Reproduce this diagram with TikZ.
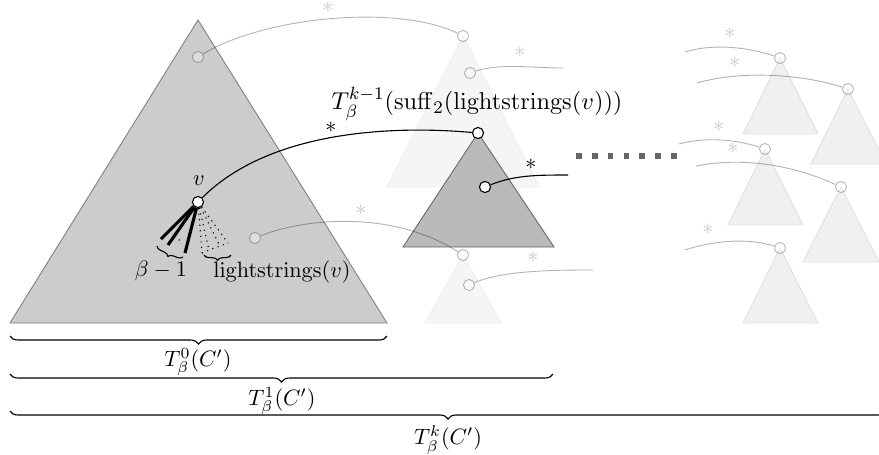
\documentclass[tikz,border=0pt]{standalone}
\usetikzlibrary{decorations.pathreplacing}
\begin{document}
\begin{tikzpicture}[x=0.45pt,y=-0.45pt,
 bigtri/.style={fill=black!20,draw=black!50,line width=0.4pt},
 midtri/.style={fill=black!27,draw=black!60,line width=0.4pt},
 fadetri/.style={fill=black!4,draw=black!7,line width=0.4pt},
 righttri/.style={fill=black!6,draw=black!12,line width=0.4pt},
 dotnode/.style={circle,draw=black,fill=white,inner sep=0pt,minimum size=5pt,line width=0.5pt},
 fdot/.style={circle,draw=black,draw opacity=0.28,fill=white,fill opacity=0.35,inner sep=0pt,minimum size=5pt,line width=0.4pt},
 link/.style={black,line width=0.5pt},
 flink/.style={black,opacity=0.3,line width=0.4pt},
 starlbl/.style={inner sep=0pt},
 fstar/.style={inner sep=0pt,text=black!22},
 sqnode/.style={fill=black!60,inner sep=0pt,minimum size=2.5pt},
 bracestyle/.style={decorate,decoration={brace,mirror,amplitude=3.6pt},line width=0.5pt},
 sbrace/.style={decorate,decoration={brace,mirror,amplitude=2.4pt},line width=0.5pt}]
\useasboundingbox (0,0) rectangle (879,454);
\clip (0,0) rectangle (879,454);

% faded trees
\draw[fadetri] (463,36) -- (387,187) -- (539,187) -- cycle;
\draw[fadetri] (463,255) -- (425,323) -- (501,323) -- cycle;
\draw[righttri] (780,58) -- (743,134) -- (818,134) -- cycle;
\draw[righttri] (848,89) -- (811,164) -- (886,164) -- cycle;
\draw[righttri] (765,149) -- (728,225) -- (803,225) -- cycle;
\draw[righttri] (841,187) -- (803,262) -- (879,262) -- cycle;
\draw[righttri] (780,248) -- (743,323) -- (818,323) -- cycle;

% big triangle and middle tree
\draw[bigtri] (198,20) -- (10,323) -- (387,323) -- cycle;
\draw[midtri] (478,133) -- (403,247) -- (554,247) -- cycle;

% faded nodes
\node[fdot] (t0) at (198,57) {};
\node[fdot] (t1) at (255,238) {};
\node[fdot] (ra) at (463,36) {};
\node[fdot] (rai) at (470,73) {};
\node[fdot] (rb) at (463,255) {};
\node[fdot] (rbi) at (469,285) {};
\node[fdot] (rc) at (780,58) {};
\node[fdot] (rd) at (848,89) {};
\node[fdot] (re) at (765,149) {};
\node[fdot] (rf) at (841,187) {};
\node[fdot] (rg) at (780,248) {};
\coordinate (ea) at (563,68);
\coordinate (eb) at (593,270);
\coordinate (ec) at (685,52);
\coordinate (ed) at (697,83);
\coordinate (ee) at (679,144);
\coordinate (ef) at (696,166);
\coordinate (eg) at (685,250);

\draw[flink] (t0) .. controls +(70,-42) and +(-62,-31) .. (ra);
\draw[flink] (t1) .. controls +(50,-20) and +(-70,-45) .. (rb);
\draw[flink] (rai) .. controls +(30,-10) and +(-30,0) .. (ea);
\draw[flink] (rbi) .. controls +(35,-15) and +(-35,0) .. (eb);
\draw[flink] (ec) .. controls +(25,-8) and +(-35,-12) .. (rc);
\draw[flink] (ed) .. controls +(40,-12) and +(-50,-16) .. (rd);
\draw[flink] (ee) .. controls +(25,-7) and +(-30,-10) .. (re);
\draw[flink] (ef) .. controls +(40,-8) and +(-55,-25) .. (rf);
\draw[flink] (eg) .. controls +(30,-10) and +(-30,-10) .. (rg);

\node[fstar] (s1) at (328,7) {$*$};
\node[fstar] (s2) at (520,52) {$*$};
\node[fstar] (s3) at (361,210) {$*$};
\node[fstar] (s4) at (533,257) {$*$};
\node[fstar] (s5) at (730,33) {$*$};
\node[fstar] (s6) at (735,62) {$*$};
\node[fstar] (s7) at (719,126) {$*$};
\node[fstar] (s8) at (733,148) {$*$};
\node[fstar] (s9) at (708,229) {$*$};

% main nodes
\node[dotnode] (v) at (198,202) {};
\node[dotnode] (m) at (478,133) {};
\node[dotnode] (mi) at (485,187) {};
\coordinate (em) at (568,175);
\draw[link] (v) .. controls +(70,-70) and +(-90,-8) .. (m);
\draw[link] (mi) .. controls +(30,-12) and +(-30,0) .. (em);
\node[starlbl] (bs1) at (331,127) {$*$};
\node[starlbl] (bs2) at (531,164) {$*$};
\node (vl) at (199,181) {$v$};
\node[font=\fontsize{11}{13}\selectfont] (tl) at (477,104) {$T_\beta^{k-1}(\mathrm{suff}_2(\mathrm{lightstrings}(v)))$};

% fan
\coordinate (f1) at (161,239);
\coordinate (f2) at (168,245);
\coordinate (f3) at (185,253);
\draw[line width=1.4pt] (v) -- (f1);
\draw[line width=1.4pt] (v) -- (f2);
\draw[line width=1.4pt] (v) -- (f3);
\coordinate (fm) at (174,237);
\draw[dotted,line width=0.5pt] (fm) -- (183,242);
\coordinate (g1) at (202,253);
\coordinate (g2) at (209,250);
\coordinate (g3) at (220,246);
\coordinate (g4) at (228,243);
\draw[dotted,line width=0.5pt] (v) -- (g1);
\draw[dotted,line width=0.5pt] (v) -- (g2);
\draw[dotted,line width=0.5pt] (v) -- (g3);
\draw[dotted,line width=0.5pt] (v) -- (g4);
\draw[dotted,line width=0.5pt] (g1) -- (g2) -- (g3) -- (g4);

\coordinate (lb1) at (157,246);
\coordinate (lb2) at (183,257);
\coordinate (rb1) at (204,255);
\coordinate (rb2) at (231,255);
\draw[sbrace] (lb1) -- (lb2);
\draw[sbrace] (rb1) -- (rb2);
\node (bl) at (161,271) {$\beta-1$};
\node (ll) at (282,272) {$\mathrm{lightstrings}(v)$};

% dotted squares
\foreach \i in {0,...,6} {
  \node[sqnode] (q\i) at (579+15.8*\i,156) {};
}

% braces
\coordinate (b1s) at (10,336);
\coordinate (b1e) at (387,336);
\coordinate (b2s) at (10,374);
\coordinate (b2e) at (553,374);
\coordinate (b3s) at (10,411);
\coordinate (b3e) at (886,411);
\draw[bracestyle] (b1s) -- (b1e);
\draw[bracestyle] (b2s) -- (b2e);
\draw[bracestyle] (b3s) -- (b3e);
\node (L0) at (198,362) {$T_\beta^0(C')$};
\node (L1) at (282,401) {$T_\beta^1(C')$};
\node (L2) at (448,440) {$T_\beta^k(C')$};
\end{tikzpicture}
\end{document}
